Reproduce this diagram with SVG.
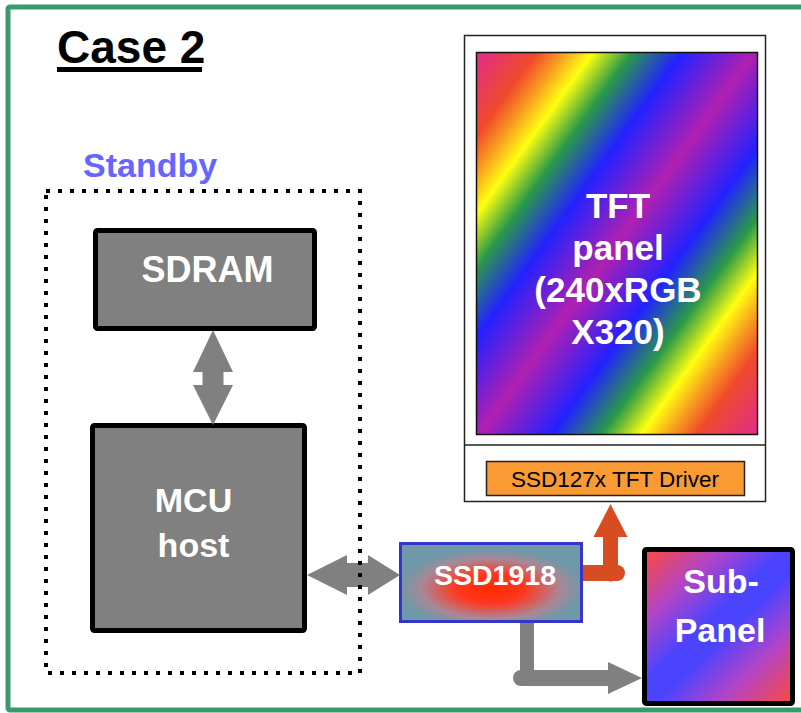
<svg xmlns="http://www.w3.org/2000/svg" width="801" height="713" viewBox="0 0 801 713">
<style>
  text { font-family: "Liberation Sans", Arial, sans-serif; }
  .w { fill: #ffffff; font-weight: bold; text-anchor: middle; }
  .gbox { fill: #808080; stroke: #000; stroke-width: 5; }
  .gray { fill: #808080; }
  .orange { fill: #d84c22; }
</style>
<defs>
  <linearGradient id="rainbow" gradientUnits="userSpaceOnUse" x1="476" y1="52" x2="843" y2="316">
    <stop offset="0" stop-color="#e02c8c"/>
    <stop offset="0.11" stop-color="#f04a2a"/>
    <stop offset="0.16" stop-color="#f8a020"/>
    <stop offset="0.21" stop-color="#ffff10"/>
    <stop offset="0.28" stop-color="#2a9a48"/>
    <stop offset="0.37" stop-color="#2222ff"/>
    <stop offset="0.5" stop-color="#b020b0"/>
    <stop offset="0.63" stop-color="#2222ff"/>
    <stop offset="0.72" stop-color="#2a9a48"/>
    <stop offset="0.79" stop-color="#ffff10"/>
    <stop offset="0.84" stop-color="#f8a020"/>
    <stop offset="0.89" stop-color="#f04a2a"/>
    <stop offset="1" stop-color="#e02c8c"/>
  </linearGradient>
  <linearGradient id="subgrad" gradientUnits="userSpaceOnUse" x1="644" y1="549" x2="793" y2="704">
    <stop offset="0" stop-color="#ff4a3a"/>
    <stop offset="0.25" stop-color="#b044c8"/>
    <stop offset="0.45" stop-color="#4a44ff"/>
    <stop offset="0.55" stop-color="#4a44ff"/>
    <stop offset="0.75" stop-color="#b044c8"/>
    <stop offset="1" stop-color="#ff4a3a"/>
  </linearGradient>
  <radialGradient id="ssdgrad" cx="0.5" cy="0.58" r="0.55">
    <stop offset="0" stop-color="#ff2a00"/>
    <stop offset="0.35" stop-color="#ff3822"/>
    <stop offset="0.7" stop-color="#a88896"/>
    <stop offset="0.92" stop-color="#6f98a8"/>
  </radialGradient>
</defs>

<!-- frame -->
<rect x="8" y="7" width="800" height="703" fill="#ffffff" stroke="#3a9b6a" stroke-width="5" rx="2"/>

<g id="title">
  <text x="57" y="63" font-size="46" font-weight="bold" fill="#000">Case 2</text>
  <rect x="57" y="67" width="145" height="5" fill="#000"/>
</g>

<g id="standby-label">
  <text x="83" y="177" font-size="34" font-weight="bold" fill="#6666ff">Standby</text>
</g>

<g id="tft">
  <rect x="464.5" y="35.5" width="301" height="466" fill="#ffffff" stroke="#222" stroke-width="1.5"/>
  <line x1="464.5" y1="445" x2="765.5" y2="445" stroke="#222" stroke-width="1.5"/>
  <rect x="476.5" y="52.5" width="281" height="382" fill="url(#rainbow)" stroke="#111" stroke-width="1.5"/>
  <text class="w" x="618" y="218" font-size="35">TFT</text>
  <text class="w" x="618" y="260" font-size="35">panel</text>
  <text class="w" x="618" y="302" font-size="35">(240xRGB</text>
  <text class="w" x="618" y="344" font-size="35">X320)</text>
</g>

<g id="driver">
  <rect x="486.5" y="461.5" width="258" height="34" fill="#f99a33" stroke="#222" stroke-width="1.5"/>
  <text x="615" y="487" font-size="22.5" fill="#000" text-anchor="middle">SSD127x TFT Driver</text>
</g>

<g id="sdram">
  <rect class="gbox" x="95.5" y="230.5" width="219" height="98" rx="2"/>
  <text class="w" x="207.5" y="282" font-size="36">SDRAM</text>
</g>

<g id="mcu">
  <rect class="gbox" x="92.5" y="425.5" width="212" height="205" rx="2"/>
  <text class="w" x="193.5" y="512" font-size="34">MCU</text>
  <text class="w" x="193.5" y="557" font-size="34">host</text>
</g>

<g id="ssd1918">
  <rect x="400.5" y="543.5" width="181" height="78" fill="url(#ssdgrad)" stroke="#3535cc" stroke-width="3"/>
  <text class="w" x="495" y="585" font-size="28.5">SSD1918</text>
</g>

<g id="subpanel">
  <rect x="644.5" y="549.5" width="148" height="154" fill="url(#subgrad)" stroke="#000" stroke-width="5" rx="2"/>
  <text class="w" x="721" y="593" font-size="34">Sub-</text>
  <text class="w" x="720" y="642" font-size="34">Panel</text>
</g>

<g id="connectors">
  <!-- SDRAM <-> MCU -->
  <polygon class="gray" points="213,330 233,372 223.5,372 223.5,385 233,385 213,425 193,385 202.5,385 202.5,372 193,372"/>
  <!-- MCU <-> SSD1918 -->
  <polygon class="gray" points="307,575 347,555 347,563 368,563 368,555 400,575 368,595 368,587 347,587 347,595"/>
  <!-- SSD1918 -> TFT driver -->
  <path class="orange" d="M583,565 H617 A8,8 0 0 1 617,581 H583 Z"/>
  <line x1="610.5" y1="574" x2="610.5" y2="536" stroke="#d84c22" stroke-width="15" stroke-linecap="round"/>
  <polygon class="orange" points="610.5,504 627.5,537 593.5,537"/>
  <!-- SSD1918 -> Sub-Panel -->
  <line x1="527" y1="623" x2="527" y2="678" stroke="#808080" stroke-width="14"/>
  <line x1="521" y1="678" x2="610" y2="678" stroke="#808080" stroke-width="16" stroke-linecap="round"/>
  <polygon class="gray" points="642,678 608,662 608,694"/>
</g>

<g id="standby">
  <rect x="46" y="191" width="314" height="482" fill="none" stroke="#000" stroke-width="4" stroke-dasharray="4 8"/>
</g>
</svg>
